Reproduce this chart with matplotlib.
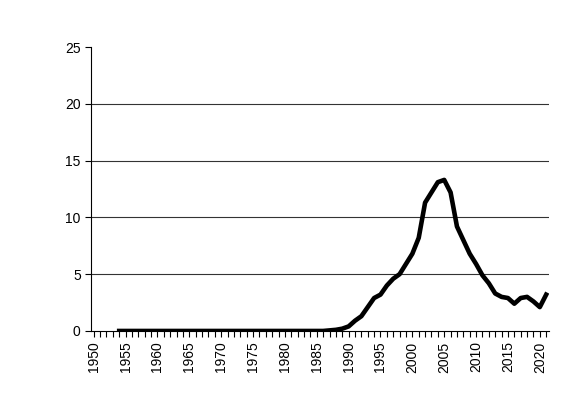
import numpy as np
import matplotlib
matplotlib.use('Agg')
import matplotlib.pyplot as plt

plt.rcParams['font.family'] = ['Liberation Sans', 'DejaVu Sans']

years = list(range(1954, 2022))
values = [0.0] * (1987 - 1954) + [
    0.05, 0.1, 0.2, 0.4, 0.9, 1.3, 2.1, 2.9, 3.2, 4.0, 4.6, 5.0, 5.9, 6.8,
    8.2, 11.3, 12.2, 13.1, 13.3, 12.2, 9.2, 8.0, 6.8, 5.9, 4.9, 4.2, 3.3,
    3.0, 2.9, 2.4, 2.9, 3.0, 2.6, 2.1, 3.2]
tick_years = list(range(1950, 2021, 5))

fig = plt.figure(figsize=(5.77, 4.2), dpi=100)
ax = fig.add_axes([0.158, 0.212, 0.793, 0.676])
for v in [5, 10, 15, 20]:
    ax.axhline(v, color='#333333', lw=0.8, zorder=1)
ax.plot(years, values, color='black', lw=3.3, solid_joinstyle='round', zorder=3)

ax.set_xlim(1949.6, 2021.4)
ax.set_ylim(0, 25)
ax.set_yticks([0, 5, 10, 15, 20, 25])
ax.set_xticks(tick_years)
ax.set_xticks(range(1950, 2022), minor=True)
ax.set_xticklabels([str(y) for y in tick_years], rotation=90)
ax.tick_params(axis='x', which='both', direction='out', length=4, width=0.8)
ax.tick_params(axis='y', direction='out', length=4, width=0.8)
ax.tick_params(labelsize=10)
for s in ['top', 'right']:
    ax.spines[s].set_visible(False)
ax.spines['left'].set_linewidth(0.8)
ax.spines['bottom'].set_linewidth(0.8)

fig.savefig('out.png', dpi=100)
